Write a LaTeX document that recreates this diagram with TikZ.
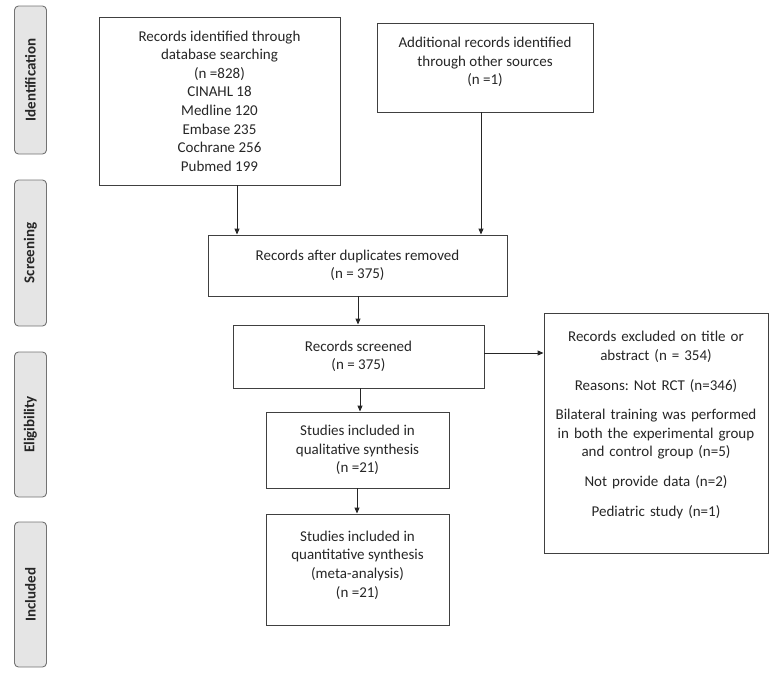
\documentclass[tikz,border=0pt]{standalone}
\usepackage{fontspec}
\setmainfont{Carlito}
\frenchspacing
\usetikzlibrary{arrows.meta}
\begin{document}
\begin{tikzpicture}[x=1pt,y=-1pt,
  txt/.style={font=\fontsize{15}{18.6}\selectfont, text=black!85, align=center},
  boxx/.style={draw=black!75, line width=0.9pt, txt, inner sep=0pt},
  phase/.style={draw=black!55, fill=black!10, rounded corners=4pt, line width=0.9pt,
     minimum width=32pt, inner sep=0pt, font=\fontsize{15}{16}\selectfont\bfseries, text=black!85},
  arr/.style={draw=black!85, line width=0.9pt, -{Triangle[length=6pt,width=5pt]}}]
\useasboundingbox (0,0) rectangle (777,675);
% phase labels
\node[phase, minimum height=148pt] (ph1) at (30.5,80) {\rotatebox{90}{Identification}};
\node[phase, minimum height=146pt] (ph2) at (30.5,253) {\rotatebox{90}{Screening}};
\node[phase, minimum height=145pt] (ph3) at (30.5,424.5) {\rotatebox{90}{Eligibility}};
\node[phase, minimum height=145pt] (ph4) at (30.5,594.5) {\rotatebox{90}{Included}};
% boxes
\node[boxx, minimum width=241pt, minimum height=168pt] (b1) at (219.5,101) {Records identified through\\database searching\\(n =828)\\CINAHL 18\\Medline 120\\Embase 235\\Cochrane 256\\Pubmed 199};
\node[boxx, minimum width=216pt, minimum height=89pt] (b2) at (485,67.5) {};
\node[txt] (b2t) at (485,62) {Additional records identified\\through other sources\\(n =1)};
\node[boxx, minimum width=299pt, minimum height=61pt] (b3) at (357.5,265.5) {Records after duplicates removed\\(n = 375)};
\node[boxx, minimum width=251pt, minimum height=63pt] (b4) at (358.5,356.5) {Records screened\\(n = 375)};
\node[boxx, minimum width=224pt, minimum height=240pt] (b7) at (656,433) {};
\node[txt, text width=220pt] (b7t) at (656,425) {Records excluded on title or\\abstract (n = 354)\\[11pt]Reasons: Not RCT (n=346)\\[11pt]Bilateral training was performed\\in both the experimental group\\and control group (n=5)\\[11pt]Not provide data (n=2)\\[11pt]Pediatric study (n=1)};
\node[boxx, minimum width=183pt, minimum height=76pt] (b5) at (357.5,450) {Studies included in\\qualitative synthesis\\(n =21)};
\node[boxx, minimum width=183pt, minimum height=111pt] (b6) at (357.5,569.5) {};
\node[txt] (b6t) at (357.5,565) {Studies included in\\quantitative synthesis\\(meta-analysis)\\(n =21)};
% connectors
\coordinate (c1) at (237,0);
\coordinate (c2) at (481,0);
\coordinate (c3) at (358,0);
\coordinate (c4) at (360,0);
\coordinate (c5) at (357,0);
\coordinate (c6) at (0,353);
\draw[arr] (b1.south -| c1) -- (b3.north -| c1);
\draw[arr] (b2.south -| c2) -- (b3.north -| c2);
\draw[arr] (b3.south -| c3) -- (b4.north -| c3);
\draw[arr] (b4.south -| c4) -- (b5.north -| c4);
\draw[arr] (b5.south -| c5) -- (b6.north -| c5);
\draw[arr] (b4.east |- c6) -- (b7.west |- c6);
\end{tikzpicture}
\end{document}
